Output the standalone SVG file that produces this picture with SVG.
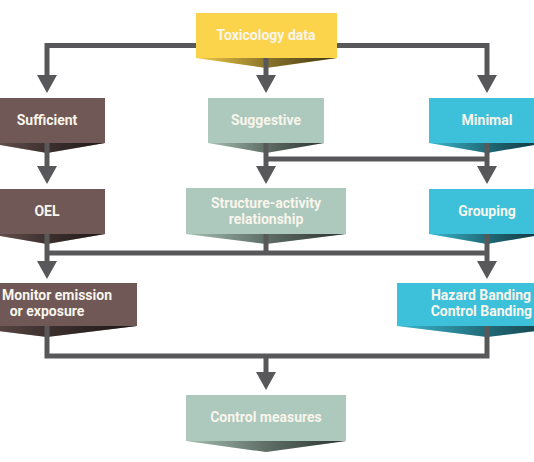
<svg xmlns="http://www.w3.org/2000/svg" width="534" height="462" viewBox="0 0 534 462">
  <style>
    .lbl { font-family: Roboto, "Liberation Sans", sans-serif; font-weight: bold; font-size: 14px; fill: #f8f5ec; }
    .mid { text-anchor: middle; }
    .end { text-anchor: end; }
    .yellow { fill: #fcd44c; }
    .brown { fill: #6f5855; }
    .sage { fill: #adc8bc; }
    .cyan { fill: #3dc0d9; }
    .shade { fill: url(#shade); }
    .conn { fill: none; stroke: #58585a; stroke-width: 5; marker-end: url(#arrow); }
    .conn-plain { fill: none; stroke: #58585a; stroke-width: 5; }
  </style>
  <defs>
    <linearGradient id="shade" x1="0" y1="0" x2="1" y2="0">
      <stop offset="0" stop-color="#000" stop-opacity="0.05"/>
      <stop offset="0.5" stop-color="#000" stop-opacity="0.45"/>
      <stop offset="1" stop-color="#000" stop-opacity="0.75"/>
    </linearGradient>
    <marker id="arrow" viewBox="0 0 18 20" refX="8" refY="10" markerWidth="18" markerHeight="20" markerUnits="userSpaceOnUse" orient="auto">
      <path d="M0,0 L18,10 L0,20 z" fill="#58585a"/>
    </marker>
  </defs>

  <g id="toxicology">
    <path class="yellow" d="M196,58 L337,58 L266,68 z"/>
    <path class="shade" d="M196,58 L337,58 L266,68 z"/>
    <rect class="yellow" x="196" y="13" width="141" height="45"/>
    <text class="lbl mid" x="266" y="40">Toxicology data</text>
  </g>

  <g id="sufficient">
    <path class="brown" d="M-11,143 L105,143 L47,153 z"/>
    <path class="shade" d="M-11,143 L105,143 L47,153 z"/>
    <rect class="brown" x="-11" y="98" width="116" height="45"/>
    <text class="lbl mid" x="47" y="125">Sufficient</text>
  </g>

  <g id="suggestive">
    <path class="sage" d="M208,143 L324,143 L266,153 z"/>
    <path class="shade" d="M208,143 L324,143 L266,153 z"/>
    <rect class="sage" x="208" y="98" width="116" height="45"/>
    <text class="lbl mid" x="266" y="125">Suggestive</text>
  </g>

  <g id="minimal">
    <path class="cyan" d="M429,143 L545,143 L487,153 z"/>
    <path class="shade" d="M429,143 L545,143 L487,153 z"/>
    <rect class="cyan" x="429" y="98" width="116" height="45"/>
    <text class="lbl mid" x="487" y="125">Minimal</text>
  </g>

  <g id="oel">
    <path class="brown" d="M-11,234 L105,234 L47,244 z"/>
    <path class="shade" d="M-11,234 L105,234 L47,244 z"/>
    <rect class="brown" x="-11" y="189" width="116" height="45"/>
    <text class="lbl mid" x="47" y="216">OEL</text>
  </g>

  <g id="sar">
    <path class="sage" d="M186,234 L346,234 L266,244 z"/>
    <path class="shade" d="M186,234 L346,234 L266,244 z"/>
    <rect class="sage" x="186" y="188" width="160" height="46"/>
    <text class="lbl mid" x="266" y="208">Structure-activity</text>
    <text class="lbl mid" x="266" y="224">relationship</text>
  </g>

  <g id="grouping">
    <path class="cyan" d="M429,234 L545,234 L487,244 z"/>
    <path class="shade" d="M429,234 L545,234 L487,244 z"/>
    <rect class="cyan" x="429" y="189" width="116" height="45"/>
    <text class="lbl mid" x="487" y="216">Grouping</text>
  </g>

  <g id="monitor">
    <path class="brown" d="M-43,326 L137,326 L47,337 z"/>
    <path class="shade" d="M-43,326 L137,326 L47,337 z"/>
    <rect class="brown" x="-43" y="283" width="180" height="43"/>
    <text class="lbl" x="2" y="300" font-size="13">Monitor emission</text>
    <text class="lbl mid" x="47" y="316">or exposure</text>
  </g>

  <g id="hazard">
    <path class="cyan" d="M397,326 L577,326 L487,337 z"/>
    <path class="shade" d="M397,326 L577,326 L487,337 z"/>
    <rect class="cyan" x="397" y="283" width="180" height="43"/>
    <text class="lbl end" x="531" y="300">Hazard Banding</text>
    <text class="lbl end" x="532" y="316" font-size="13.5">Control Banding</text>
  </g>

  <g id="control">
    <path class="sage" d="M186,441 L346,441 L266,452 z"/>
    <path class="shade" d="M186,441 L346,441 L266,452 z"/>
    <rect class="sage" x="186" y="395" width="160" height="46"/>
    <text class="lbl mid" x="266" y="422">Control measures</text>
  </g>

  <g id="connectors">
    <path class="conn" d="M196,45.5 H47 V83"/>
    <path class="conn" d="M266,58 V83"/>
    <path class="conn" d="M337,45.5 H487 V83"/>
    <path class="conn" d="M47,143 V174"/>
    <path class="conn" d="M266,143 V174"/>
    <path class="conn-plain" d="M266,159 H487"/>
    <path class="conn" d="M487,143 V174"/>
    <path class="conn-plain" d="M47,253 H487"/>
    <path class="conn-plain" d="M266,234 V253"/>
    <path class="conn" d="M47,234 V269"/>
    <path class="conn" d="M487,234 V269"/>
    <path class="conn-plain" d="M47,326 V356 H487 V326"/>
    <path class="conn" d="M266,356 V380"/>
  </g>
</svg>
